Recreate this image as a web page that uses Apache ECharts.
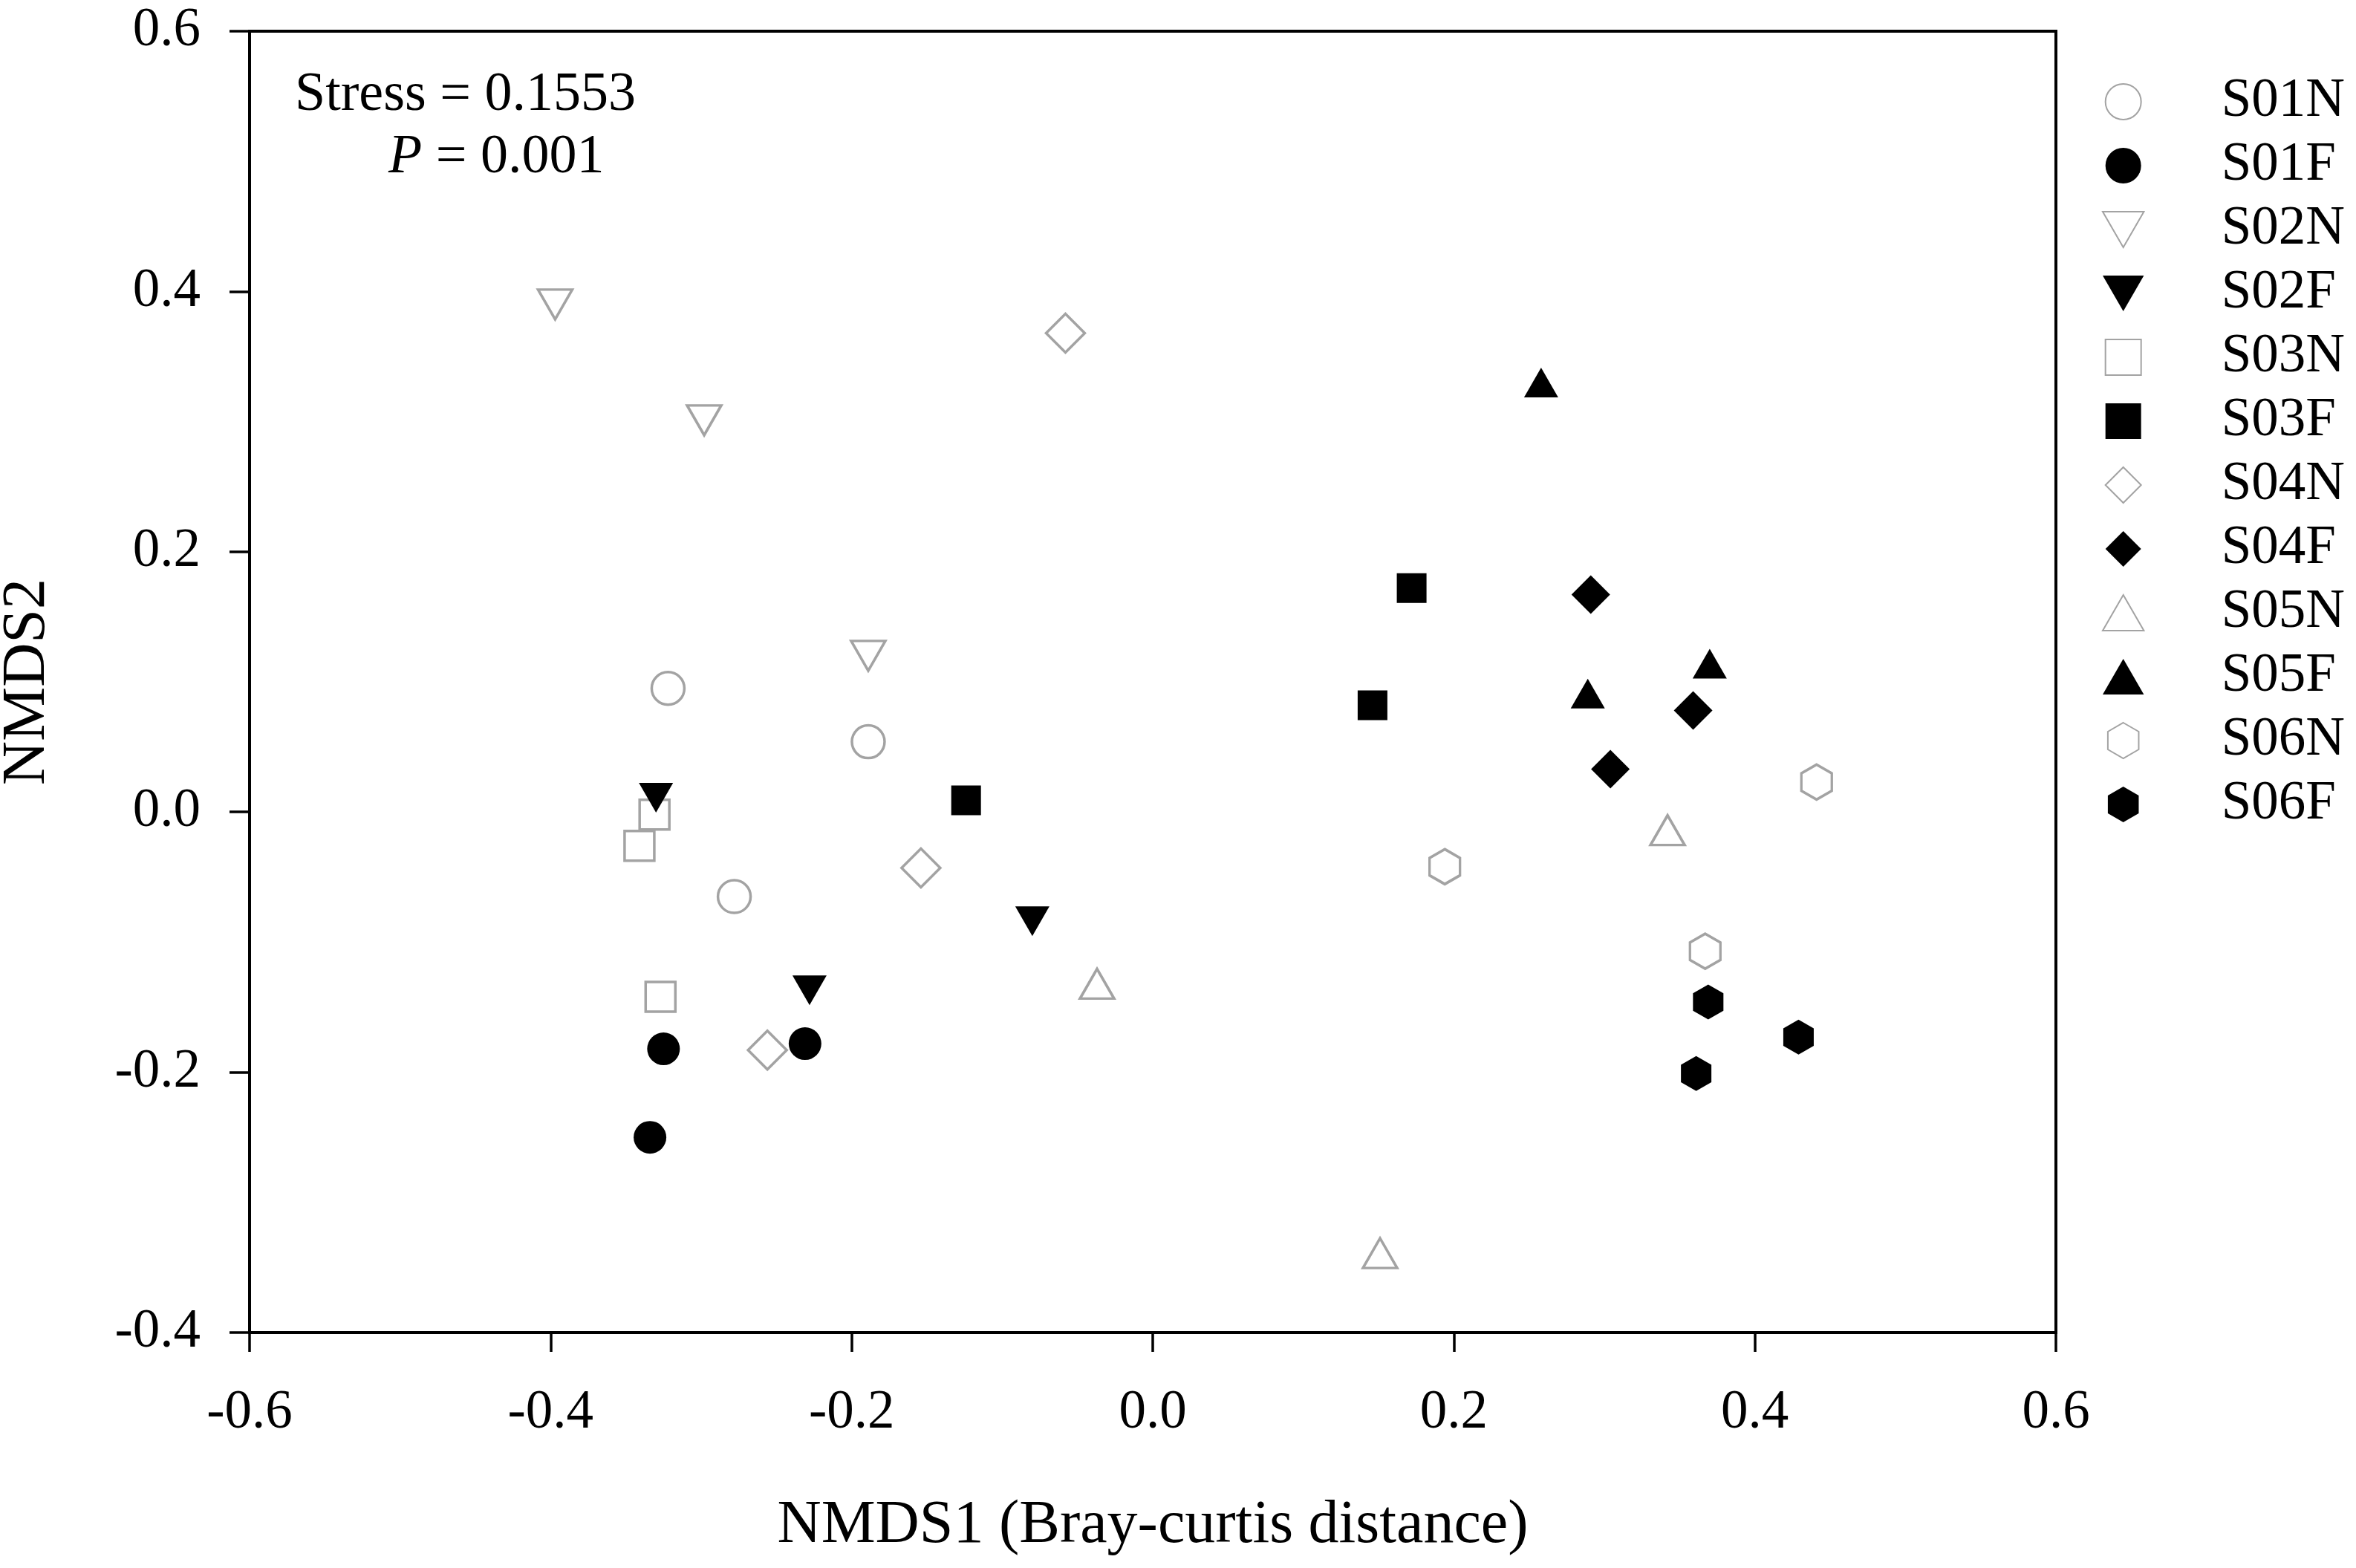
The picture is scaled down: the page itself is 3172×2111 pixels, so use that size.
<!DOCTYPE html>
<html>
<head>
<meta charset="utf-8">
<title>NMDS</title>
<script src="https://cdn.jsdelivr.net/npm/echarts/dist/echarts.min.js"></script>
<style>
    html, body { margin: 0; padding: 0; background: #fff; }
    #container { width: 3172px; height: 2111px; }
</style>
</head>
<body>
<div id="container"></div>
<script type="text/javascript">
    // NMDS1 / NMDS2 scores, three samples per group
    var s01N = [[-0.322, 0.095], [-0.189, 0.054], [-0.278, -0.065]];
    var s01F = [[-0.325, -0.182], [-0.231, -0.178], [-0.334, -0.250]];
    var s02N = [[-0.397, 0.390], [-0.298, 0.301], [-0.189, 0.120]];
    var s02F = [[-0.330, 0.011], [-0.228, -0.137], [-0.080, -0.084]];
    var s03N = [[-0.331, -0.002], [-0.341, -0.026], [-0.327, -0.142]];
    var s03F = [[-0.124, 0.009], [0.146, 0.082], [0.172, 0.172]];
    var s04N = [[-0.058, 0.368], [-0.154, -0.043], [-0.256, -0.183]];
    var s04F = [[0.291, 0.167], [0.359, 0.078], [0.304, 0.033]];
    var s05N = [[-0.037, -0.132], [0.342, -0.014], [0.151, -0.339]];
    var s05F = [[0.258, 0.330], [0.289, 0.091], [0.370, 0.114]];
    var s06N = [[0.194, -0.042], [0.441, 0.023], [0.367, -0.107]];
    var s06F = [[0.369, -0.146], [0.429, -0.173], [0.361, -0.201]];

    var groupNames = ['S01N', 'S01F', 'S02N', 'S02F', 'S03N', 'S03F',
                      'S04N', 'S04F', 'S05N', 'S05F', 'S06N', 'S06F'];
    var groupData = [s01N, s01F, s02N, s02F, s03N, s03F,
                     s04N, s04F, s05N, s05F, s06N, s06F];

    var stressText = 'Stress = 0.1553';
    var pText = '0.001';

    var gray = '#a3a3a3';
    var font = '"Liberation Serif", "Times New Roman", serif';

    // marker shapes
    var triDown = 'path://M0,0L1000,0L500,866Z';
    var triUp = 'path://M500,0L1000,866L0,866Z';
    var square = 'path://M0,0L1000,0L1000,1000L0,1000Z';
    var diamond = 'path://M500,0L1000,500L500,1000L0,500Z';
    var hexagon = 'path://M866,0L1732,500L1732,1500L866,2000L0,1500L0,500Z';
    var shapes = [
        ['circle', 44], ['circle', 44],
        [triDown, [46, 40]], [triDown, [46, 40]],
        [square, 40], [square, 40],
        [diamond, 52], [diamond, 52],
        [triUp, [46, 40]], [triUp, [46, 40]],
        [hexagon, [41, 47]], [hexagon, [41, 47]]
    ];

    var series = [];
    for (var i = 0; i < groupNames.length; i++) {
        var open = groupNames[i].charAt(3) === 'N';
        series.push({
            name: groupNames[i],
            type: 'scatter',
            data: groupData[i],
            symbol: shapes[i][0],
            symbolSize: shapes[i][1],
            z: open ? 2 : 3,
            itemStyle: open
                ? { color: '#fff', borderColor: gray, borderWidth: 3.5, opacity: 1 }
                : { color: '#000', borderColor: '#000', borderWidth: 0, opacity: 1 }
        });
    }

    var dom = document.getElementById('container');
    var myChart = echarts.init(dom, null, { renderer: 'canvas' });

    var option = {
        backgroundColor: '#fff',
        animation: false,
        textStyle: { fontFamily: font },
        grid: {
            left: 336, top: 42, width: 2432, height: 1752,
            outerBoundsMode: 'none',
            containLabel: false,
            show: true, borderColor: '#000', borderWidth: 4,
            backgroundColor: 'transparent'
        },
        xAxis: {
            type: 'value',
            min: -0.6, max: 0.6, interval: 0.2,
            name: 'NMDS1 (Bray-curtis distance)',
            nameLocation: 'middle',
            nameGap: 219,
            nameTextStyle: { fontSize: 82, color: '#000', fontFamily: font },
            axisLine: { show: true, onZero: false, lineStyle: { color: '#000', width: 4 } },
            axisTick: { show: true, inside: false, length: 26, lineStyle: { color: '#000', width: 3.5 } },
            axisLabel: {
                fontSize: 73, color: '#000', fontFamily: font, margin: 72,
                formatter: function (v) { return v.toFixed(1); }
            },
            splitLine: { show: false }
        },
        yAxis: {
            type: 'value',
            min: -0.4, max: 0.6, interval: 0.2,
            name: 'NMDS2',
            nameLocation: 'middle',
            nameGap: 258,
            nameTextStyle: { fontSize: 82, color: '#000', fontFamily: font },
            axisLine: { show: true, onZero: false, lineStyle: { color: '#000', width: 4 } },
            axisTick: { show: true, inside: false, length: 27, lineStyle: { color: '#000', width: 3.5 } },
            axisLabel: {
                fontSize: 73, color: '#000', fontFamily: font, margin: 66,
                formatter: function (v) { return v.toFixed(1); }
            },
            splitLine: { show: false }
        },
        legend: {
            orient: 'vertical',
            right: 15,
            top: 97,
            padding: 0,
            itemWidth: 254,
            itemHeight: 48,
            itemGap: 6,
            data: groupNames,
            textStyle: { fontSize: 73, color: '#000', fontFamily: font, lineHeight: 80 }
        },
        graphic: [
            {
                type: 'text',
                left: 397, top: 92,
                style: { text: stressText, fontSize: 74, fontFamily: font, fill: '#000' }
            },
            {
                type: 'text',
                left: 523, top: 176,
                style: {
                    text: '{i|P} = ' + pText,
                    fontSize: 74, fontFamily: font, fill: '#000',
                    rich: { i: { fontStyle: 'italic', fontSize: 74, fontFamily: font, fill: '#000' } }
                }
            }
        ],
        series: series
    };

    myChart.setOption(option);
</script>
</body>
</html>
